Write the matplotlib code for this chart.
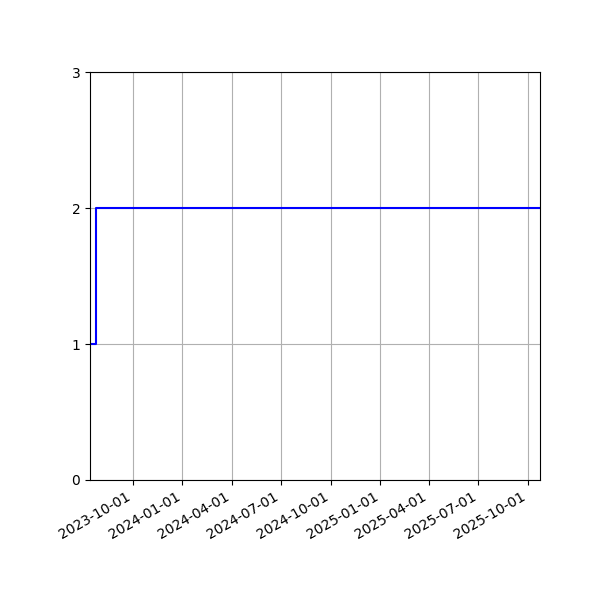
import matplotlib
matplotlib.use("Agg")
import matplotlib.pyplot as plt
import matplotlib.dates as mdates
import numpy as np
from datetime import datetime

dates = ["2023-07-14", "2023-07-25", "2025-10-23"]
values = [1, 2, 2]
xticks = ["2023-10-01", "2024-01-01", "2024-04-01", "2024-07-01", "2024-10-01",
          "2025-01-01", "2025-04-01", "2025-07-01", "2025-10-01"]
yticks = [0, 1, 2, 3]

x = [datetime.strptime(d, "%Y-%m-%d") for d in dates]
fig, ax = plt.subplots(figsize=(6, 6), dpi=100)
ax.plot(x, values, drawstyle="steps-post", color="blue", linewidth=1.5)
ax.set_xlim(x[0], x[-1])
ax.set_ylim(0, 3)
ax.set_yticks(yticks)
ax.set_xticks([datetime.strptime(d, "%Y-%m-%d") for d in xticks])
ax.xaxis.set_major_formatter(mdates.DateFormatter("%Y-%m-%d"))
ax.grid(True)
fig.autofmt_xdate()
fig.subplots_adjust(left=0.15, right=0.9, top=0.88, bottom=0.2)
fig.savefig("out.png", dpi=100)
